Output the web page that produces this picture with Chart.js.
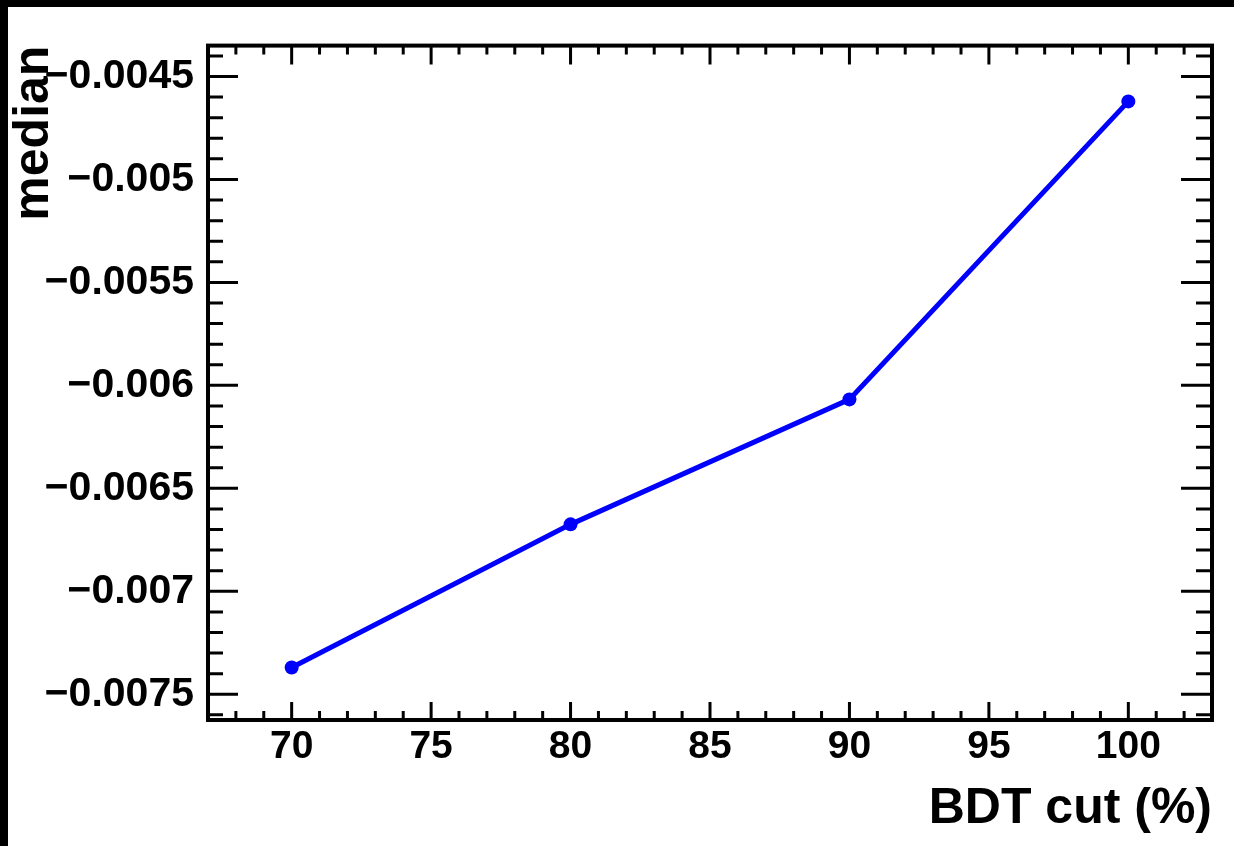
<!DOCTYPE html>
<html>
<head>
<meta charset="utf-8">
<script src="https://cdn.jsdelivr.net/npm/chart.js@4"></script>
<style>
  html, body { margin: 0; padding: 0; background: #000; width: 1234px; height: 846px; overflow: hidden; }
  #wrap { position: absolute; left: 8px; top: 7px; width: 1226px; height: 839px; background: #fff; }
</style>
</head>
<body>
<div id="wrap"><canvas id="c"></canvas></div>
<script>
// ---- data ----
const bdtCut = [70, 80, 90, 100];
const medianValues = [-0.00737, -0.006675, -0.006068, -0.004621];
const xTickValues = [70, 75, 80, 85, 90, 95, 100];
const xTickLabels = ['70', '75', '80', '85', '90', '95', '100'];
const yTickValues = [-0.0045, -0.005, -0.0055, -0.006, -0.0065, -0.007, -0.0075];
const yTickLabels = ['\u22120.0045', '\u22120.005', '\u22120.0055', '\u22120.006', '\u22120.0065', '\u22120.007', '\u22120.0075'];
const xMinorStep = 1;
const yMinorStep = 0.0001;
const xTitle = 'BDT cut (%)';
const yTitle = 'median';

const FONT = "'Liberation Sans', Arial, Helvetica, sans-serif";

const frameTicks = {
  id: 'frameTicks',
  afterDraw(chart) {
    const { ctx, chartArea: a, scales: { x, y } } = chart;
    ctx.save();
    ctx.strokeStyle = '#000';
    ctx.lineWidth = 3;
    ctx.lineCap = 'butt';
    ctx.beginPath();
    const xMin = x.min, xMax = x.max;
    for (let v = Math.ceil(xMin / xMinorStep) * xMinorStep; v <= xMax + 1e-9; v += xMinorStep) {
      const vv = Math.round(v * 1000) / 1000;
      const major = xTickValues.some(t => Math.abs(t - vv) < 1e-6);
      const px = x.getPixelForValue(vv);
      const lb = major ? 18 : 9;
      const lt = major ? 19 : 9;
      ctx.moveTo(px, a.bottom); ctx.lineTo(px, a.bottom - lb);
      ctx.moveTo(px, a.top); ctx.lineTo(px, a.top + lt);
    }
    const n0 = Math.ceil(y.min / yMinorStep - 1e-6);
    const n1 = Math.floor(y.max / yMinorStep + 1e-6);
    for (let n = n0; n <= n1; n++) {
      const vv = n * yMinorStep;
      const major = yTickValues.some(t => Math.abs(t - vv) < 1e-9);
      const py = y.getPixelForValue(vv);
      const ll = major ? 30 : 15;
      const lr = major ? 31 : 16;
      ctx.moveTo(a.left, py); ctx.lineTo(a.left + ll, py);
      ctx.moveTo(a.right, py); ctx.lineTo(a.right - lr, py);
    }
    ctx.stroke();
    ctx.lineWidth = 4;
    ctx.strokeRect(a.left, a.top, a.right - a.left, a.bottom - a.top);
    ctx.restore();
  }
};

new Chart(document.getElementById('c'), {
  type: 'line',
  data: {
    datasets: [{
      data: bdtCut.map((v, i) => ({ x: v, y: medianValues[i] })),
      borderColor: '#0000ff',
      backgroundColor: '#0000ff',
      borderWidth: 5,
      pointRadius: 7,
      pointBorderWidth: 0,
      pointBackgroundColor: '#0000ff',
      tension: 0,
      fill: false
    }]
  },
  plugins: [frameTicks],
  options: {
    responsive: true,
    maintainAspectRatio: false,
    animation: false,
    events: [],
    layout: { padding: { left: 0, top: 34, right: 22, bottom: 0 } },
    plugins: { legend: { display: false }, tooltip: { enabled: false }, title: { display: false } },
    scales: {
      x: {
        type: 'linear',
        min: 67, max: 103,
        grid: { display: false, drawTicks: false },
        border: { display: false },
        afterBuildTicks: s => { s.ticks = xTickValues.map(v => ({ value: v })); },
        afterFit: s => { s.height = 126; },
        ticks: {
          autoSkip: false, maxRotation: 0,
          padding: 4,
          color: '#000',
          font: { family: FONT, size: 39, weight: 'bold' },
          callback: (v, i) => xTickLabels[i]
        },
        title: {
          display: true, text: xTitle, align: 'end', color: '#000',
          font: { family: FONT, size: 50, weight: 'bold', lineHeight: 1 },
          padding: { top: 0, bottom: 12 }
        }
      },
      y: {
        type: 'linear',
        min: -0.007625, max: -0.00435,
        grid: { display: false, drawTicks: false },
        border: { display: false },
        afterBuildTicks: s => { s.ticks = yTickValues.map(v => ({ value: v })); },
        afterFit: s => { s.width = 200; },
        ticks: {
          autoSkip: false,
          padding: 14,
          color: '#000',
          font: { family: FONT, size: 41, weight: 'bold' },
          callback: (v, i) => yTickLabels[i]
        },
        title: {
          display: true, text: yTitle, align: 'end', color: '#000',
          font: { family: FONT, size: 50, weight: 'bold', lineHeight: 1 },
          padding: { top: 1, bottom: 0 }
        }
      }
    }
  }
});
</script>
</body>
</html>
